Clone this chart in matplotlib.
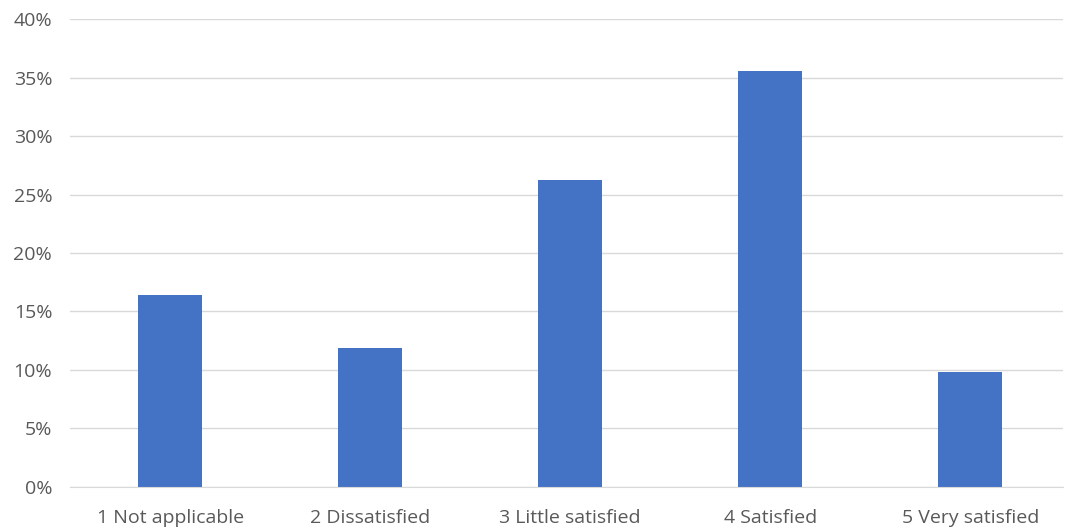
import matplotlib.pyplot as plt
from matplotlib.ticker import PercentFormatter

categories = ["1 Not applicable", "2 Dissatisfied", "3 Little satisfied", "4 Satisfied", "5 Very satisfied"]
shares = [16.4, 11.9, 26.2, 35.6, 9.8]

plt.rcParams['font.family'] = ['Open Sans', 'DejaVu Sans']

fig = plt.figure(figsize=(10.65, 5.32), dpi=100)
ax = fig.add_axes([0.066, 0.085, 0.9324, 0.879])

ax.bar(range(len(categories)), shares, width=0.32, color="#4472C4", zorder=2)

ax.set_ylim(0, 40)
ax.set_xlim(-0.5, 4.465)
ax.set_yticks(range(0, 41, 5))
ax.yaxis.set_major_formatter(PercentFormatter(decimals=0))
ax.set_xticks(range(len(categories)))
ax.set_xticklabels(categories)
ax.grid(axis="y", color="#d9d9d9", linewidth=1, zorder=0)
for s in ["top", "right", "left"]:
    ax.spines[s].set_visible(False)
ax.spines["bottom"].set_color("#d9d9d9")
ax.tick_params(length=0, labelsize=14, colors="#595959")
ax.tick_params(axis="x", pad=16)
ax.tick_params(axis="y", pad=13)

fig.savefig("out.png", dpi=100)
